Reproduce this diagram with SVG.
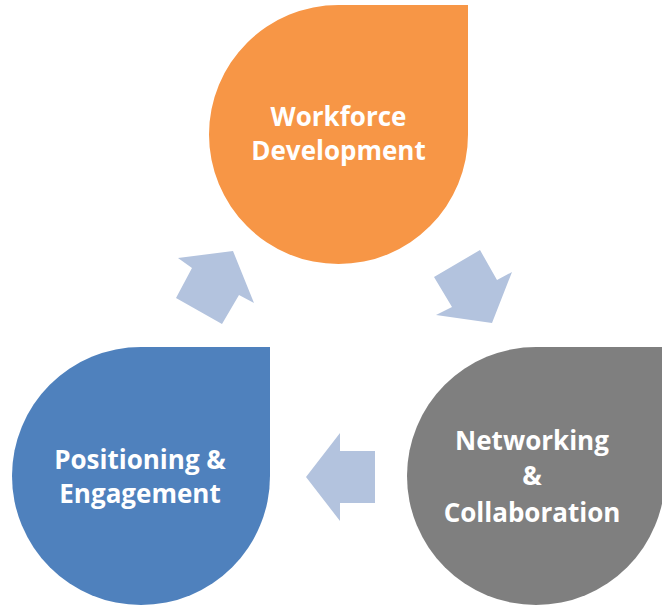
<svg xmlns="http://www.w3.org/2000/svg" width="662" height="607" viewBox="0 0 662 607">
<style>
.lbl{font-family:"Open Sans","Liberation Sans",sans-serif;font-weight:700;font-size:26px;fill:#FFFFFF;text-anchor:middle}
.arr{fill:#B3C3DE}
</style>
<rect width="662" height="607" fill="#FFFFFF"/>
<g id="connectors">
<polygon class="arr" points="176,298 192,268 178,258 233,251 254,303 239,295 222,324"/>
<polygon class="arr" points="434,277 480,250 497,280 512,272 492,323 436,315 452,307"/>
<polygon class="arr" points="375,451 375,503 340,503 340,521 306,477 340,433 340,451"/>
</g>
<g id="workforce">
<path d="M338.5,5 H468 V134.5 A129.5,129.5 0 0 1 338.5,264 A129.5,129.5 0 0 1 209,134.5 A129.5,129.5 0 0 1 338.5,5 Z" fill="#F79646"/>
<text class="lbl" x="338.5" y="126">Workforce</text>
<text class="lbl" x="338.5" y="160">Development</text>
</g>
<g id="networking">
<path d="M536,347 H665 V476 A129,129 0 0 1 536,605 A129,129 0 0 1 407,476 A129,129 0 0 1 536,347 Z" fill="#7F7F7F"/>
<text class="lbl" x="532" y="450">Networking</text>
<text class="lbl" x="532" y="485">&amp;</text>
<text class="lbl" x="532" y="522">Collaboration</text>
</g>
<g id="positioning">
<path d="M141,347 H270 V476 A129,129 0 0 1 141,605 A129,129 0 0 1 12,476 A129,129 0 0 1 141,347 Z" fill="#4F81BD"/>
<text class="lbl" x="140" y="469">Positioning &amp;</text>
<text class="lbl" x="140" y="503">Engagement</text>
</g>
</svg>
